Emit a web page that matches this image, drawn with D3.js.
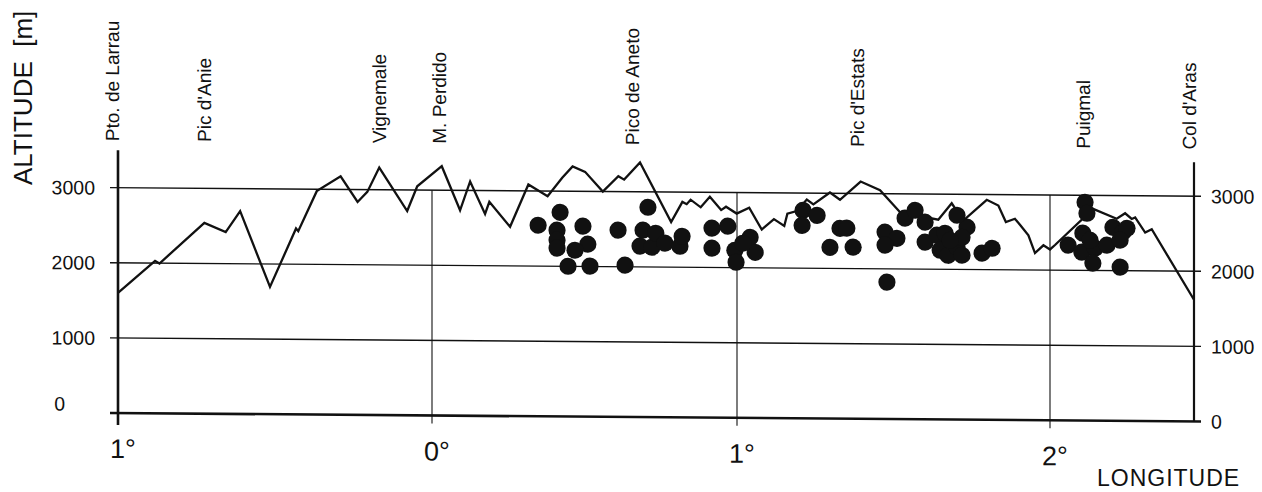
<!DOCTYPE html>
<html>
<head>
<meta charset="utf-8">
<script src="https://cdn.jsdelivr.net/npm/d3@7"></script>
<style>
  body { margin: 0; background: #fff; }
  svg { display: block; font-family: "Liberation Sans", Arial, sans-serif; }
  text { fill: #111; white-space: pre; }
</style>
</head>
<body>
<svg id="chart" width="1262" height="492"></svg>
<script>
// ridge profile of the Pyrenees (longitude in degrees, negative = west)
const ridgeLon = [-1.000, -0.882, -0.868, -0.725, -0.657, -0.611, -0.516, -0.433, -0.426, -0.367,
  -0.291, -0.237, -0.206, -0.168, -0.079, -0.047, 0.032, 0.092, 0.125, 0.174,
  0.188, 0.256, 0.316, 0.379, 0.427, 0.461, 0.502, 0.560, 0.611, 0.630,
  0.682, 0.784, 0.821, 0.835, 0.848, 0.881, 0.911, 0.948, 0.964, 0.999,
  1.039, 1.079, 1.118, 1.151, 1.161, 1.191, 1.223, 1.244, 1.297, 1.329,
  1.395, 1.457, 1.521, 1.643, 1.686, 1.723, 1.798, 1.835, 1.859, 1.888,
  1.904, 1.931, 1.952, 1.979, 2.000, 2.016, 2.138, 2.213, 2.240, 2.261,
  2.272, 2.304, 2.325, 2.460];
const ridgeAlt = [1600, 2030, 1995, 2540, 2420, 2700, 1695, 2475, 2440, 2975,
  3175, 2835, 2970, 3295, 2720, 3050, 3320, 2735, 3120, 2690,
  2850, 2520, 3085, 2930, 3180, 3330, 3260, 3000, 3205, 3160,
  3390, 2600, 2870, 2840, 2900, 2800, 2940, 2765, 2810, 2720,
  2800, 2510, 2650, 2560, 2725, 2760, 2915, 2850, 3010, 2915,
  3160, 3045, 2755, 2660, 2880, 2650, 2930, 2855, 2635, 2680,
  2600, 2460, 2225, 2330, 2275, 2335, 2820, 2690, 2765, 2690,
  2710, 2510, 2555, 1620];

// lakes
const lakeLon = [0.348, 0.420, 0.410, 0.495, 0.410, 0.511, 0.410, 0.469, 0.446, 0.518,
  0.610, 0.633, 0.708, 0.692, 0.682, 0.721, 0.734, 0.764, 0.813, 0.820,
  0.918, 0.918, 0.970, 0.993, 0.997, 1.042, 1.058, 1.019, 1.211, 1.208,
  1.256, 1.297, 1.329, 1.351, 1.371, 1.473, 1.511, 1.473, 1.479, 1.537,
  1.569, 1.601, 1.601, 1.639, 1.665, 1.649, 1.674, 1.703, 1.719, 1.735,
  1.703, 1.719, 1.681, 1.783, 1.815, 2.112, 2.118, 2.105, 2.058, 2.102,
  2.144, 2.137, 2.128, 2.182, 2.201, 2.233, 2.246, 2.224, 2.224];
const lakeAlt = [2544, 2719, 2480, 2536, 2347, 2297, 2241, 2215, 2001, 2005,
  2487, 2021, 2795, 2489, 2277, 2263, 2450, 2318, 2279, 2412,
  2523, 2257, 2551, 2231, 2072, 2406, 2206, 2326, 2770, 2570,
  2705, 2281, 2535, 2537, 2285, 2488, 2408, 2315, 1823, 2676,
  2783, 2625, 2359, 2453, 2480, 2254, 2187, 2295, 2189, 2563,
  2721, 2428, 2387, 2218, 2285, 2907, 2761, 2495, 2334, 2242,
  2297, 2097, 2403, 2338, 2577, 2512, 2565, 2406, 2047];

const peakNames = ["Pto. de Larrau", "Pic d'Anie", "Vignemale", "M. Perdido",
  "Pico de Aneto", "Pic d'Estats", "Puigmal", "Col d'Aras"];
const peakLon = [-1.02, -0.726, -0.169, 0.023, 0.656, 1.383, 2.105, 2.445];

const altTicks = [0, 1000, 2000, 3000];
const lonTicks = [-1, 0, 1, 2];
const lonTickLabels = ["1°", "0°", "1°", "2°"];

const ink = "#111";
const svg = d3.select("#chart");

// the printed figure is slightly sheared: horizontals drop to the right
const x = d3.scaleLinear().domain([-1, 0, 1, 2, 2.46]).range([118, 432, 737, 1050, 1194]);
const y = d3.scaleLinear().domain([0, 3000]).range([413, 187.7]);
const x0 = x(-1), x1 = x(2.46);

const g = svg.append("g")
    .attr("transform", `translate(${x0},${y(0)}) skewY(0.45) translate(${-x0},${-y(0)})`);

// horizontal grid lines
g.append("g").selectAll("line")
  .data(altTicks)
  .join("line")
    .attr("x1", x0 - 8)
    .attr("x2", x1 + 7)
    .attr("y1", d => y(d))
    .attr("y2", d => y(d))
    .attr("stroke", ink)
    .attr("stroke-width", d => d === 0 ? 2.6 : 1.4);

// vertical grid lines at whole degrees
g.append("g").selectAll("line")
  .data(lonTicks.slice(1))
  .join("line")
    .attr("x1", d => x(d))
    .attr("x2", d => x(d))
    .attr("y1", y(3000))
    .attr("y2", y(0) + 8)
    .attr("stroke", ink)
    .attr("stroke-width", 1.1);

// left and right axes
g.append("line")
    .attr("x1", x0).attr("x2", x0)
    .attr("y1", y(3500)).attr("y2", y(0) + 12)
    .attr("stroke", ink).attr("stroke-width", 2.6);
g.append("line")
    .attr("x1", x1).attr("x2", x1)
    .attr("y1", y(3450)).attr("y2", y(0))
    .attr("stroke", ink).attr("stroke-width", 2.2);

// altitude labels
g.append("g").selectAll("text")
  .data(altTicks)
  .join("text")
    .attr("x", d => d === 0 ? 65 : 95)
    .attr("y", d => y(d))
    .attr("dy", d => d === 0 ? "-0.1em" : "0.36em")
    .attr("text-anchor", "end")
    .attr("font-size", 19.5)
    .text(d => d);
g.append("g").selectAll("text")
  .data(altTicks)
  .join("text")
    .attr("x", x1 + 17)
    .attr("y", d => y(d))
    .attr("dy", "0.36em")
    .attr("font-size", 19.5)
    .text(d => d);

// longitude labels
g.append("g").selectAll("text")
  .data(lonTicks)
  .join("text")
    .attr("x", d => x(d))
    .attr("y", y(0) + 45)
    .attr("dx", 5)
    .attr("text-anchor", "middle")
    .attr("font-size", 27)
    .text((d, i) => lonTickLabels[i]);

// ridge line
const line = d3.line()
    .x(d => x(d[0]))
    .y(d => y(d[1]));
g.append("path")
    .datum(d3.zip(ridgeLon, ridgeAlt))
    .attr("d", line)
    .attr("fill", "none")
    .attr("stroke", ink)
    .attr("stroke-width", 2.3)
    .attr("stroke-linejoin", "miter");

// lakes
g.append("g").selectAll("circle")
  .data(d3.zip(lakeLon, lakeAlt))
  .join("circle")
    .attr("cx", d => x(d[0]))
    .attr("cy", d => y(d[1]))
    .attr("r", 8.6)
    .attr("fill", ink);

// peak names
g.append("g").selectAll("text")
  .data(peakNames)
  .join("text")
    .attr("transform", (d, i) => `translate(${x(peakLon[i])},${y(3500) - 9}) rotate(-90)`)
    .attr("dy", "0.36em")
    .attr("font-size", 19)
    .text(d => d);

// axis titles
svg.append("text")
    .attr("transform", "translate(32,185) rotate(-90)")
    .attr("font-size", 26)
    .text("ALTITUDE  [m]");
svg.append("text")
    .attr("x", 1097)
    .attr("y", 486)
    .attr("font-size", 23)
    .attr("letter-spacing", 1)
    .text("LONGITUDE");
</script>
</body>
</html>
